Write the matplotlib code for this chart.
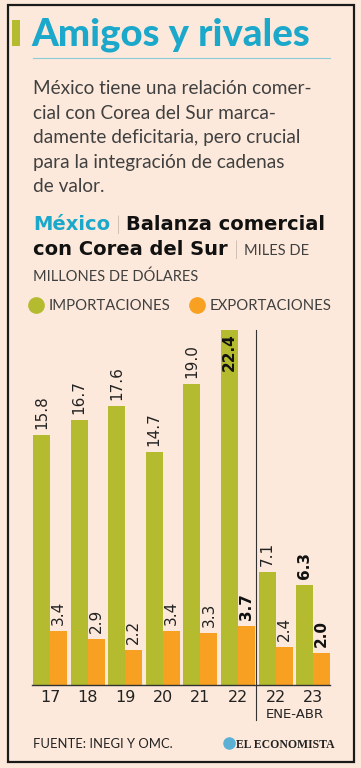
import matplotlib.pyplot as plt
from matplotlib.lines import Line2D
from matplotlib.patches import Rectangle
from matplotlib.transforms import blended_transform_factory

W, H = 361, 768
BG = '#fce9db'
GREEN = '#b4bb2f'
ORANGE = '#f8a022'
CYAN = '#1ba8cb'

# datos (miles de millones de dólares)
periodos = ['17', '18', '19', '20', '21', '22', '22', '23']
importaciones = [15.8, 16.7, 17.6, 14.7, 19.0, 22.4, 7.1, 6.3]
exportaciones = [3.4, 2.9, 2.2, 3.4, 3.3, 3.7, 2.4, 2.0]
destacados = [5, 7]

parrafo = ['México tiene una relación comer-',
           'cial con Corea del Sur marca-',
           'damente deficitaria, pero crucial',
           'para la integración de cadenas',
           'de valor.']

NARROW = ['Liberation Sans Narrow', 'DejaVu Sans']
BODY = ['Lato', 'DejaVu Sans']
HEAVY = ['DejaVu Sans']


def fx(x):
    return x / W


def fy(y):
    return 1 - y / H


fig = plt.figure(figsize=(W / 100, H / 100), dpi=100, facecolor=BG)
renderer = fig.canvas.get_renderer()

# marco
fig.add_artist(Rectangle((fx(8), fy(762)), (354 - 8) / W, (762 - 5) / H,
                         transform=fig.transFigure, fill=False, lw=1.6, ec='#1a1a1a'))
fig.add_artist(Rectangle((fx(12), fy(46)), 8 / W, 26 / H,
                         transform=fig.transFigure, color=GREEN, lw=0))

fig.text(fx(31), fy(46), 'Amigos y rivales', fontsize=27.5, weight='black',
         color=CYAN, family=BODY, va='baseline')
fig.add_artist(Line2D([fx(33), fx(330)], [fy(58), fy(58)], transform=fig.transFigure,
                      color='#8ccbd8', lw=0.8))

for i, linea in enumerate(parrafo):
    fig.text(fx(33), fy(94 + 24.6 * i), linea, fontsize=13.7, weight='normal',
             color='#404040', family=BODY, va='baseline')


def secuencia(x, y, piezas):
    for txt, gap, kw in piezas:
        t = fig.text(fx(x), fy(y), txt, va='baseline', **kw)
        x = t.get_window_extent(renderer).x1 + gap


bold = dict(fontsize=14, weight='bold', color='#111111', family=HEAVY)
light = dict(fontsize=10.5, weight='normal', color='#404040', family=BODY)
bar_ = dict(fontsize=13.5, weight='light', color='#333333', family=BODY)
secuencia(33, 230, [('México', 6, dict(fontsize=14, weight='bold', color=CYAN, family=HEAVY)),
                    ('|', 6, bar_),
                    ('Balanza comercial', 0, bold)])
secuencia(33, 255, [('con Corea del Sur', 6, bold),
                    ('|', 6, bar_),
                    ('MILES DE', 0, light)])
secuencia(33, 281, [('MILLONES DE DÓLARES', 0, light)])

handles = [Line2D([], [], marker='o', ls='none', color=GREEN, markersize=11),
           Line2D([], [], marker='o', ls='none', color=ORANGE, markersize=11)]
fig.legend(handles, ['IMPORTACIONES', 'EXPORTACIONES'], loc='center left',
           bbox_to_anchor=(fx(29), fy(306)), ncol=2, frameon=False,
           handlelength=1.0, handletextpad=0.35, columnspacing=1.25,
           borderpad=0, borderaxespad=0,
           prop=dict(family=BODY, size=10.7, weight='normal'), labelcolor='#404040')

# gráfico de barras
ax = fig.add_axes([fx(32), fy(685), (330 - 32) / W, (685 - 330) / H])
ax.set_facecolor('none')
x = list(range(len(periodos)))
w = 0.452
ax.bar([i - w / 2 for i in x], importaciones, w, color=GREEN)
ax.bar([i + w / 2 for i in x], exportaciones, w, color=ORANGE)
ax.set_xlim(-0.479, 7.447)
ax.set_ylim(0, 22.4)

for serie, off in ((importaciones, -w / 2), (exportaciones, w / 2)):
    for i, v in enumerate(serie):
        kw = dict(rotation=90, ha='center', family=NARROW, fontsize=11)
        if i in destacados:
            kw.update(weight='bold', color='#111111')
        else:
            kw.update(color='#222222')
        if v >= ax.get_ylim()[1] - 1:
            ax.text(i + off, v - 0.2, f'{v:.1f}', va='top', **kw)
        else:
            ax.text(i + off, v + 0.38, f'{v:.1f}', va='bottom', **kw)

for s in ('top', 'right', 'left'):
    ax.spines[s].set_visible(False)
ax.spines['bottom'].set_color('#333333')
ax.spines['bottom'].set_linewidth(1.0)
ax.set_yticks([])
ax.set_xticks(x)
ax.set_xticklabels(periodos, family=NARROW, fontsize=11.5, color='#222222')
ax.tick_params(axis='x', length=0, pad=3.5)

trans = blended_transform_factory(ax.transData, ax.transAxes)
ax.plot([5.48, 5.48], [-35 / 355, 1.0], transform=trans, clip_on=False,
        color='#333333', lw=0.8)
ax.text(6.5, -30 / 355, 'ENE-ABR', transform=trans, ha='center', va='center',
        family=NARROW, fontsize=9.5, color='#222222')

# pie
fig.text(fx(33), fy(748), 'FUENTE: INEGI Y OMC.', fontsize=9.4, family=BODY,
         color='#222222', va='baseline')
fig.add_artist(Line2D([fx(229)], [fy(743)], marker='o', markersize=8,
                      color='#5bb0d3', transform=fig.transFigure))
fig.text(fx(236), fy(748), 'EL ECONOMISTA', fontsize=8.5, weight='bold',
         family=['Liberation Serif', 'DejaVu Serif'], color='#222222', va='baseline')

fig.savefig('out.png', dpi=100, facecolor=BG)
